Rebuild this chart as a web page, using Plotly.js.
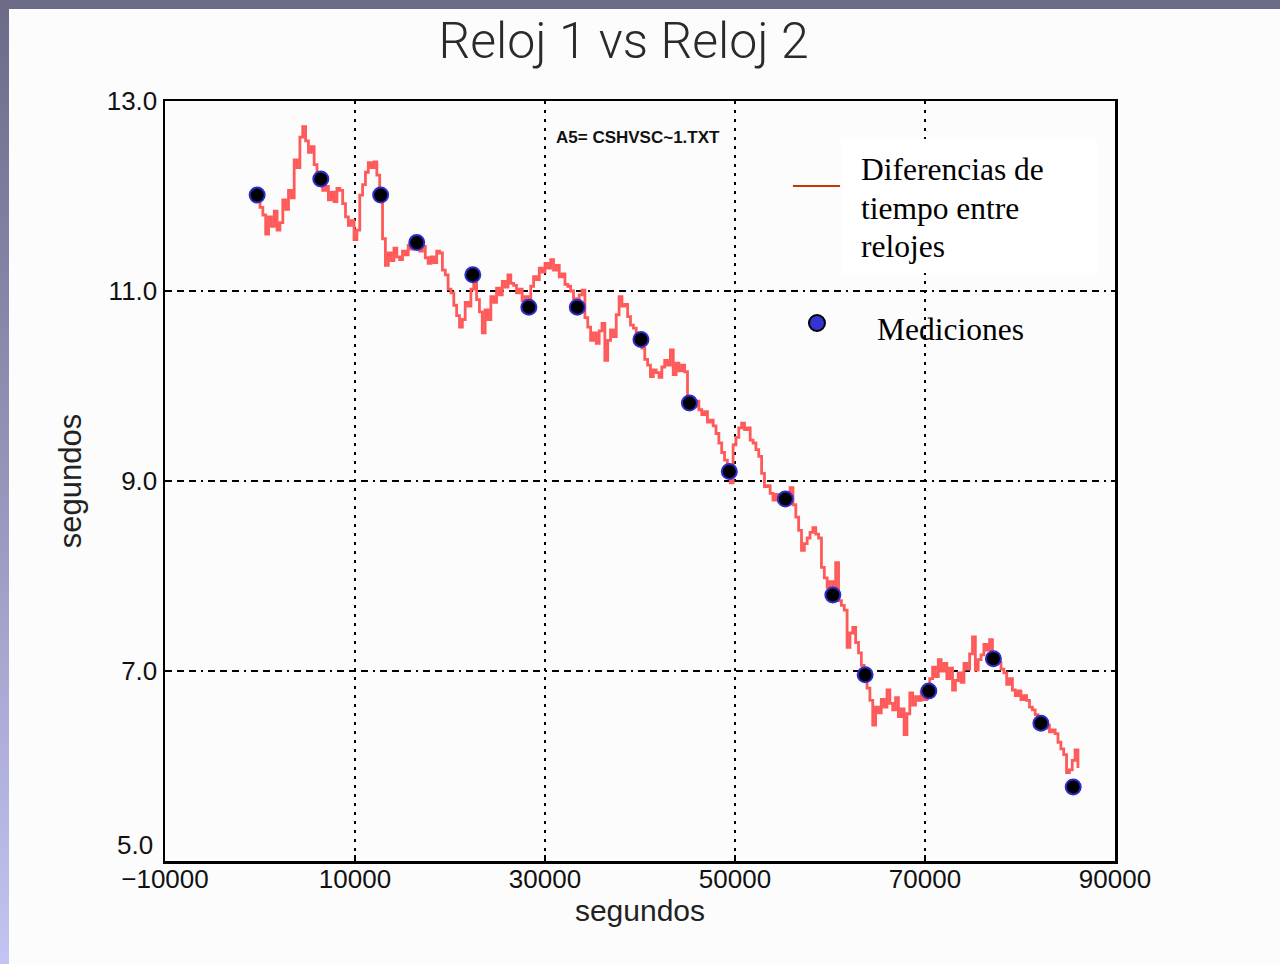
<!DOCTYPE html>
<html>
<head>
<meta charset="utf-8">
<script src="https://cdn.plot.ly/plotly-3.0.1.min.js"></script>
<style>
  html, body { margin: 0; padding: 0; }
  body { width: 1280px; height: 964px; position: relative; overflow: hidden;
         background: linear-gradient(to bottom, #6b6b88 0%, #9a9ac0 55%, #c4c4f4 100%); }
  #topbar { position: absolute; left: 0; top: 0; width: 1280px; height: 9px; background: #6b6b88; }
  #chart { position: absolute; left: 9px; top: 9px; width: 1271px; height: 955px; }
</style>
</head>
<body>
<div id="topbar"></div>
<div id="chart"></div>
<script>
// ---- Data ----
const chartTitle = "Reloj 1 vs Reloj 2";
const xAxisTitle = "segundos";
const yAxisTitle = "segundos";
const fileLabel = "A5= CSHVSC~1.TXT";
const legendLineLabels = ["Diferencias de", "tiempo entre", "relojes"];
const legendPointLabel = "Mediciones";

// time difference between clocks, sampled every DT seconds from T0
const T0 = -300;
const DT = 300;
const diffValues = [
  12.01, 11.88, 11.80, 11.60, 11.78, 11.68, 11.84, 11.64, 11.72, 11.96,
  11.86, 12.06, 11.98, 12.38, 12.30, 12.62, 12.73, 12.58, 12.46, 12.52,
  12.33, 12.18, 12.24, 12.06, 12.10, 11.96, 12.04, 11.94, 12.08, 12.06,
  11.92, 11.78, 11.69, 11.74, 11.54, 11.64, 12.01, 12.12, 12.25, 12.35,
  12.30, 12.36, 12.22, 12.01, 11.55, 11.27, 11.40, 11.32, 11.45, 11.36,
  11.33, 11.42, 11.38, 11.48, 11.44, 11.55, 11.51, 11.42, 11.47, 11.35,
  11.29, 11.36, 11.30, 11.42, 11.40, 11.22, 11.17, 11.02, 10.98, 10.85,
  10.74, 10.62, 10.70, 10.88, 10.84, 11.02, 11.17, 10.91, 10.78, 10.56,
  10.80, 10.70, 10.94, 10.88, 11.03, 10.96, 11.10, 11.04, 11.17, 11.08,
  11.06, 10.98, 11.02, 10.90, 10.94, 10.83, 11.05, 11.15, 11.12, 11.24,
  11.20, 11.29, 11.24, 11.33, 11.22, 11.27, 11.15, 11.18, 11.07, 11.05,
  11.00, 10.92, 10.83, 10.96, 11.01, 10.72, 10.62, 10.48, 10.56, 10.45,
  10.58, 10.66, 10.27, 10.48, 10.59, 10.52, 10.75, 10.94, 10.84, 10.86,
  10.73, 10.64, 10.61, 10.54, 10.51, 10.40, 10.28, 10.22, 10.10, 10.17,
  10.14, 10.09, 10.20, 10.27, 10.22, 10.38, 10.12, 10.24, 10.16, 10.22,
  10.15, 9.83, 9.88, 9.78, 9.84, 9.75, 9.70, 9.73, 9.62, 9.64,
  9.58, 9.50, 9.40, 9.30, 9.22, 9.12, 8.98, 9.38, 9.46, 9.56,
  9.61, 9.54, 9.56, 9.43, 9.40, 9.33, 9.26, 9.08, 8.94, 8.95,
  8.87, 8.80, 8.86, 8.78, 8.84, 8.82, 8.86, 8.93, 8.75, 8.62,
  8.48, 8.27, 8.34, 8.40, 8.46, 8.51, 8.44, 8.40, 8.09, 7.98,
  7.88, 7.94, 7.82, 8.14, 7.74, 7.69, 7.64, 7.25, 7.40, 7.46,
  7.30, 7.19, 7.06, 6.96, 6.82, 6.69, 6.43, 6.62, 6.56, 6.70,
  6.62, 6.80, 6.66, 6.59, 6.72, 6.52, 6.60, 6.33, 6.55, 6.77,
  6.64, 6.73, 6.69, 6.78, 6.70, 6.80, 6.92, 7.04, 6.94, 7.12,
  7.00, 7.08, 6.92, 7.03, 6.80, 6.90, 6.98, 6.88, 7.08, 7.02,
  7.18, 7.36, 7.01, 7.12, 7.17, 7.28, 7.22, 7.33, 7.13, 7.16,
  7.09, 7.02, 6.98, 6.86, 6.92, 6.80, 6.74, 6.79, 6.70, 6.74,
  6.69, 6.62, 6.59, 6.54, 6.47, 6.46, 6.40, 6.43, 6.36, 6.38,
  6.34, 6.25, 6.18, 6.12, 5.93, 5.96, 6.06, 6.17, 5.98
];

// measurements
const measX = [-300, 6400, 12700, 16500, 22400, 28300, 33400, 40100, 45200,
               49400, 55300, 60300, 63700, 70400, 77200, 82200, 85600];
const measY = [12.01, 12.18, 12.01, 11.51, 11.17, 10.83, 10.83, 10.49, 9.82,
               9.10, 8.81, 7.80, 6.96, 6.79, 7.13, 6.45, 5.78];

// axes
const xTickVals = [-10000, 10000, 30000, 50000, 70000, 90000];
const xTickText = ["\u221210000", "10000", "30000", "50000", "70000", "90000"];
const yTickVals = [5, 7, 9, 11, 13];
const yTickText = ["", "7.0", "9.0", "11.0", "13.0"];
const yBottomLabel = "5.0";

// ---- Styles ----
const sansFont = "Liberation Sans, Arial, sans-serif";
const serifFont = "Liberation Serif, Times New Roman, serif";
const dotted = "3px,6px";
const dashDot = "7px,5px,7px,5px,7px,5px,2px,5px";
const legendLineY = [0.9105, 0.8579, 0.8092];

const traces = [
  {
    type: "scatter", mode: "lines",
    x0: T0, dx: DT, y: diffValues,
    line: { color: "#ff5a5a", width: 2.8, shape: "hv" },
    hoverinfo: "skip", showlegend: false
  },
  {
    type: "scatter", mode: "markers",
    x: measX, y: measY,
    marker: { color: "#000000", size: 15, line: { color: "#2c2cd0", width: 2 } },
    hoverinfo: "skip", showlegend: false
  }
];

const annotations = [
  { text: fileLabel, xref: "paper", yref: "paper", x: 0.4095, y: 0.9526,
    xanchor: "left", yanchor: "middle", showarrow: false,
    font: { family: "Liberation Sans Narrow, Arial Narrow, " + sansFont, size: 17, color: "#111", weight: "bold" } },
  { text: legendPointLabel, xref: "paper", yref: "paper", x: 0.7475, y: 0.70,
    xanchor: "left", yanchor: "middle", showarrow: false,
    font: { family: serifFont, size: 31.5, color: "#000" } },
  { text: yBottomLabel, xref: "paper", yref: "paper", x: 0, xshift: -10, y: 0.021,
    xanchor: "right", yanchor: "middle", showarrow: false,
    font: { family: sansFont, size: 26, color: "#111" } }
];
legendLineLabels.forEach(function (t, i) {
  annotations.push({ text: t, xref: "paper", yref: "paper", x: 0.7305, y: legendLineY[i],
    xanchor: "left", yanchor: "middle", showarrow: false,
    font: { family: serifFont, size: 31.5, color: "#000" } });
});

const layout = {
  width: 1271, height: 955,
  paper_bgcolor: "#fcfcfc", plot_bgcolor: "#fcfcfc",
  margin: { l: 156, r: 165, t: 92, b: 103, autoexpand: false },
  showlegend: false,
  title: {
    text: chartTitle,
    font: { family: "Roboto, " + sansFont, size: 50, color: "#2a2a2a", weight: 300 },
    x: 0.4835, xref: "container", xanchor: "center",
    y: 0.9675, yref: "container", yanchor: "middle"
  },
  xaxis: {
    range: [-10000, 90000], autorange: false,
    tickmode: "array", tickvals: xTickVals, ticktext: xTickText,
    ticks: "inside", ticklen: 6, tickwidth: 2, tickcolor: "#000",
    ticklabelstandoff: -7,
    tickfont: { family: sansFont, size: 26, color: "#111" },
    showline: true, linecolor: "#000", linewidth: 2.5, mirror: true,
    showgrid: true, gridcolor: "#000", gridwidth: 2, griddash: dotted,
    zeroline: false,
    title: { text: xAxisTitle, font: { family: sansFont, size: 30, color: "#222" }, standoff: 8 }
  },
  yaxis: {
    range: [5, 13], autorange: false,
    tickmode: "array", tickvals: yTickVals, ticktext: yTickText,
    ticks: "inside", ticklen: 6, tickwidth: 2, tickcolor: "#000",
    tickfont: { family: sansFont, size: 26, color: "#111" },
    showline: true, linecolor: "#000", linewidth: 2.5, mirror: true,
    showgrid: true, gridcolor: "#000", gridwidth: 2, griddash: dashDot,
    zeroline: false,
    title: { text: yAxisTitle, font: { family: sansFont, size: 31, color: "#222" }, standoff: 16 }
  },
  shapes: [
    { type: "rect", xref: "paper", yref: "paper", x0: 0.7116, x1: 0.9811, y0: 0.7737, y1: 0.95,
      fillcolor: "#ffffff", line: { width: 0 }, layer: "above" },
    { type: "line", xref: "paper", yref: "paper", x0: 0.661, x1: 0.7105, y0: 0.888, y1: 0.888,
      line: { color: "#cc3300", width: 2 }, layer: "above" },
    { type: "circle", xref: "paper", yref: "paper", xsizemode: "pixel", ysizemode: "pixel",
      xanchor: 0.6863, yanchor: 0.7079, x0: -8, x1: 8, y0: -8, y1: 8,
      fillcolor: "#3434d0", line: { color: "#000", width: 2 }, layer: "above" }
  ],
  annotations: annotations
};

Plotly.newPlot("chart", traces, layout, { displayModeBar: false, staticPlot: true });
</script>
</body>
</html>
